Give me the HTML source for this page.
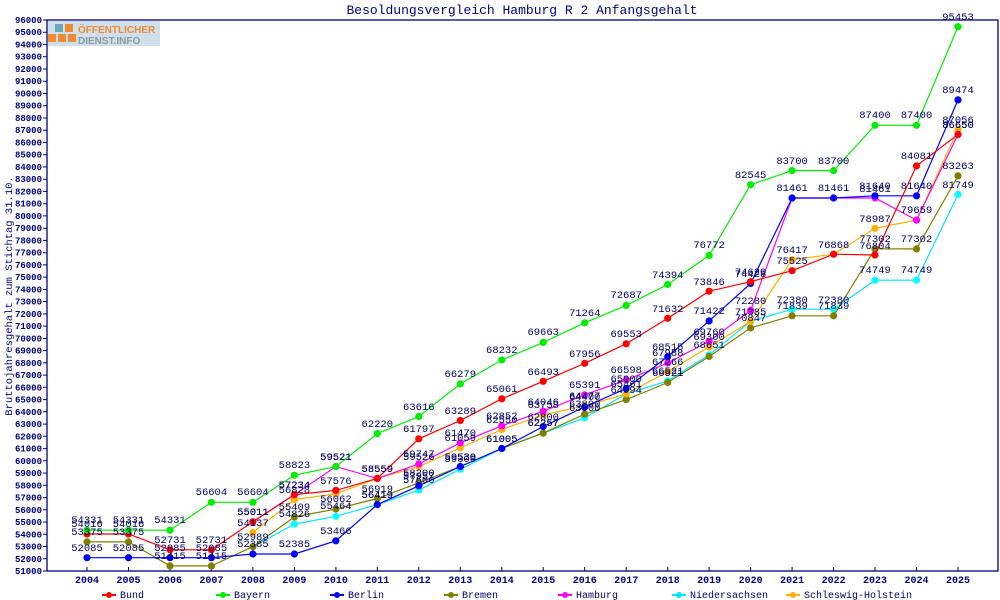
<!DOCTYPE html>
<html><head><meta charset="utf-8"><style>
html,body{margin:0;padding:0;background:#fff;}
svg{display:block;}
.t{font-family:"Liberation Mono",monospace;font-size:10.5px;fill:#000066;text-anchor:middle;}
.yl{font-family:"Liberation Mono",monospace;font-size:9px;font-weight:bold;fill:#000080;text-anchor:end;}
.xl{font-family:"Liberation Mono",monospace;font-size:10px;font-weight:bold;fill:#000080;text-anchor:middle;}
.lg{font-family:"Liberation Mono",monospace;font-size:10px;fill:#000066;}
</style></head><body>
<svg width="1000" height="600" viewBox="0 0 1000 600" xmlns="http://www.w3.org/2000/svg">
<defs>
<marker id="mr" markerUnits="userSpaceOnUse" markerWidth="10" markerHeight="10" refX="5" refY="5"><circle cx="5" cy="5" r="3.6" fill="#ff0000"/></marker>
<marker id="mg" markerUnits="userSpaceOnUse" markerWidth="10" markerHeight="10" refX="5" refY="5"><circle cx="5" cy="5" r="3.6" fill="#00ee00"/></marker>
<marker id="mb" markerUnits="userSpaceOnUse" markerWidth="10" markerHeight="10" refX="5" refY="5"><circle cx="5" cy="5" r="3.6" fill="#0000ff"/></marker>
<marker id="mo" markerUnits="userSpaceOnUse" markerWidth="10" markerHeight="10" refX="5" refY="5"><circle cx="5" cy="5" r="3.6" fill="#808000"/></marker>
<marker id="mm" markerUnits="userSpaceOnUse" markerWidth="10" markerHeight="10" refX="5" refY="5"><circle cx="5" cy="5" r="3.6" fill="#ff00ff"/></marker>
<marker id="mc" markerUnits="userSpaceOnUse" markerWidth="10" markerHeight="10" refX="5" refY="5"><circle cx="5" cy="5" r="3.6" fill="#00ffff"/></marker>
<marker id="my" markerUnits="userSpaceOnUse" markerWidth="10" markerHeight="10" refX="5" refY="5"><circle cx="5" cy="5" r="3.6" fill="#ffb000"/></marker>
</defs>
<text x="522" y="14" style="font-family:'Liberation Mono',monospace;font-size:13px;fill:#000080;text-anchor:middle">Besoldungsvergleich Hamburg R 2 Anfangsgehalt</text>
<!-- logo -->
<rect x="48" y="21" width="112" height="25" fill="#cfe0ea"/>
<rect x="55" y="24" width="8" height="8" fill="#6aa8b8"/><rect x="65" y="24" width="8" height="8" fill="#f08a30"/>
<rect x="48" y="34" width="8" height="8" fill="#f08a30"/><rect x="58" y="34" width="8" height="8" fill="#f08a30"/><rect x="68" y="34" width="8" height="8" fill="#f08a30"/>
<text x="78" y="33" style="font-family:'Liberation Sans',sans-serif;font-size:10px;font-weight:bold;fill:#f08a30">ÖFFENTLICHER</text>
<text x="78" y="44" style="font-family:'Liberation Sans',sans-serif;font-size:10px;font-weight:bold;fill:#8a9aa5">DIENST.INFO</text>
<!-- axes -->
<rect x="47" y="20" width="951" height="551" fill="none" stroke="#000080" stroke-width="1.3"/>
<g stroke="#000080" stroke-width="1">
<path d="M43 20h4M43 32.2h4M43 44.5h4M43 56.7h4M43 69h4M43 81.2h4M43 93.5h4M43 105.7h4M43 118h4M43 130.2h4M43 142.4h4M43 154.7h4M43 166.9h4M43 179.2h4M43 191.4h4M43 203.7h4M43 215.9h4M43 228.2h4M43 240.4h4M43 252.7h4M43 264.9h4M43 277.1h4M43 289.4h4M43 301.6h4M43 313.9h4M43 326.1h4M43 338.4h4M43 350.6h4M43 362.9h4M43 375.1h4M43 387.3h4M43 399.6h4M43 411.8h4M43 424.1h4M43 436.3h4M43 448.6h4M43 460.8h4M43 473.1h4M43 485.3h4M43 497.6h4M43 509.8h4M43 522h4M43 534.3h4M43 546.5h4M43 558.8h4M43 571h4"/>
<path d="M87 571v-4M128.5 571v-4M170 571v-4M211.4 571v-4M252.9 571v-4M294.4 571v-4M335.9 571v-4M377.3 571v-4M418.8 571v-4M460.3 571v-4M501.8 571v-4M543.2 571v-4M584.7 571v-4M626.2 571v-4M667.7 571v-4M709.1 571v-4M750.6 571v-4M792.1 571v-4M833.6 571v-4M875 571v-4M916.5 571v-4M958 571v-4"/>
</g>
<g class="yl">
<text x="42" y="23">96000</text><text x="42" y="35.2">95000</text><text x="42" y="47.5">94000</text><text x="42" y="59.7">93000</text><text x="42" y="72">92000</text><text x="42" y="84.2">91000</text><text x="42" y="96.5">90000</text><text x="42" y="108.7">89000</text><text x="42" y="121">88000</text><text x="42" y="133.2">87000</text><text x="42" y="145.4">86000</text><text x="42" y="157.7">85000</text><text x="42" y="169.9">84000</text><text x="42" y="182.2">83000</text><text x="42" y="194.4">82000</text><text x="42" y="206.7">81000</text><text x="42" y="218.9">80000</text><text x="42" y="231.2">79000</text><text x="42" y="243.4">78000</text><text x="42" y="255.7">77000</text><text x="42" y="267.9">76000</text><text x="42" y="280.1">75000</text><text x="42" y="292.4">74000</text><text x="42" y="304.6">73000</text><text x="42" y="316.9">72000</text><text x="42" y="329.1">71000</text><text x="42" y="341.4">70000</text><text x="42" y="353.6">69000</text><text x="42" y="365.9">68000</text><text x="42" y="378.1">67000</text><text x="42" y="390.3">66000</text><text x="42" y="402.6">65000</text><text x="42" y="414.8">64000</text><text x="42" y="427.1">63000</text><text x="42" y="439.3">62000</text><text x="42" y="451.6">61000</text><text x="42" y="463.8">60000</text><text x="42" y="476.1">59000</text><text x="42" y="488.3">58000</text><text x="42" y="500.6">57000</text><text x="42" y="512.8">56000</text><text x="42" y="525">55000</text><text x="42" y="537.3">54000</text><text x="42" y="549.5">53000</text><text x="42" y="561.8">52000</text><text x="42" y="574">51000</text>
</g>
<g class="xl">
<text x="87" y="583">2004</text><text x="128.5" y="583">2005</text><text x="170" y="583">2006</text><text x="211.4" y="583">2007</text><text x="252.9" y="583">2008</text><text x="294.4" y="583">2009</text><text x="335.9" y="583">2010</text><text x="377.3" y="583">2011</text><text x="418.8" y="583">2012</text><text x="460.3" y="583">2013</text><text x="501.8" y="583">2014</text><text x="543.2" y="583">2015</text><text x="584.7" y="583">2016</text><text x="626.2" y="583">2017</text><text x="667.7" y="583">2018</text><text x="709.1" y="583">2019</text><text x="750.6" y="583">2020</text><text x="792.1" y="583">2021</text><text x="833.6" y="583">2022</text><text x="875" y="583">2023</text><text x="916.5" y="583">2024</text><text x="958" y="583">2025</text>
</g>
<text transform="translate(12,296) rotate(-90)" style="font-family:'Liberation Mono',monospace;font-size:10.5px;fill:#000080;text-anchor:middle">Bruttojahresgehalt zum Stichtag 31.10.</text>
<g fill="none" stroke-width="1.2">
<!-- Niedersachsen -->
<polyline stroke="#00e8ff" marker-start="url(#mc)" marker-mid="url(#mc)" marker-end="url(#mc)" points="252.9,546.6 294.4,524.1 335.9,516.3 377.3,504.6 418.8,490.1 460.3,469.3 501.8,448.5 543.2,433.1 584.7,417.9 626.2,393.9 667.7,380.9 709.1,354.8 750.6,321.4 792.1,309.2 833.6,309.2 875,280.2 916.5,280.2 958,194.5"/>
<!-- Bremen -->
<polyline stroke="#808000" marker-start="url(#mo)" marker-mid="url(#mo)" marker-end="url(#mo)" points="87,541.9 128.5,541.9 170,565.9 211.4,565.9 252.9,546.6 294.4,517 335.9,509 377.3,498.5 418.8,482.8 460.3,466.5 501.8,448.5 543.2,433.1 584.7,414.2 626.2,399.6 667.7,382.5 709.1,356.5 750.6,327.9 792.1,315.8 833.6,315.8 875,248.9 916.5,248.9 958,175.9"/>
<!-- SH -->
<polyline stroke="#ffb000" marker-start="url(#my)" marker-mid="url(#my)" marker-end="url(#my)" points="252.9,532.5 294.4,499.6 335.9,493.8 377.3,478.4 418.8,466.6 460.3,447.8 501.8,429.5 543.2,414.8 584.7,405.9 626.2,393.9 667.7,371.8 709.1,346.9 750.6,321.4 792.1,259.7 833.6,254.2 875,228.3 916.5,220.1 958,129.5"/>
<!-- Hamburg -->
<polyline stroke="#ff00ff" marker-start="url(#mm)" marker-mid="url(#mm)" marker-end="url(#mm)" points="252.9,521.8 294.4,494.6 335.9,466.6 377.3,478.4 418.8,463.9 460.3,442.8 501.8,425.8 543.2,411.2 584.7,394.8 626.2,380 667.7,363 709.1,341.3 750.6,310.4 792.1,198 833.6,198 875,198 916.5,220.1 958,134.5"/>
<!-- Berlin -->
<polyline stroke="#0000ff" marker-start="url(#mb)" marker-mid="url(#mb)" marker-end="url(#mb)" points="87,557.7 128.5,557.7 170,557.7 211.4,557.7 252.9,554 294.4,554 335.9,540.8 377.3,504.6 418.8,485.8 460.3,466.5 501.8,448.5 543.2,426.5 584.7,406.9 626.2,388.5 667.7,356.5 709.1,320.9 750.6,283.5 792.1,198 833.6,198 875,195.8 916.5,195.8 958,99.9"/>
<!-- Bund -->
<polyline stroke="#ff0000" marker-start="url(#mr)" marker-mid="url(#mr)" marker-end="url(#mr)" points="87,534 128.5,534 170,549.8 211.4,549.8 252.9,521.8 294.4,494.6 335.9,490.4 377.3,478.4 418.8,438.8 460.3,420.5 501.8,398.8 543.2,381.3 584.7,363.3 626.2,343.8 667.7,318.3 709.1,291.2 750.6,281.7 792.1,270.7 833.6,254.2 875,255 916.5,165.9 958,134.5"/>
<!-- Bayern -->
<polyline stroke="#00ee00" marker-start="url(#mg)" marker-mid="url(#mg)" marker-end="url(#mg)" points="87,530.2 128.5,530.2 170,530.2 211.4,502.3 252.9,502.3 294.4,475.2 335.9,466.6 377.3,433.6 418.8,416.5 460.3,383.9 501.8,360 543.2,342.4 584.7,322.8 626.2,305.4 667.7,284.5 709.1,255.4 750.6,184.7 792.1,170.6 833.6,170.6 875,125.3 916.5,125.3 958,26.7"/>
</g>
<g class="t">
<!-- Bayern -->
<text x="87" y="523">54331</text><text x="128.5" y="523">54331</text><text x="170" y="523">54331</text><text x="211.4" y="495">56604</text><text x="252.9" y="495">56604</text><text x="294.4" y="468">58823</text><text x="335.9" y="460">59521</text><text x="377.3" y="427">62220</text><text x="418.8" y="410">63616</text><text x="460.3" y="377">66279</text><text x="501.8" y="353">68232</text><text x="543.2" y="335">69663</text><text x="584.7" y="316">71264</text><text x="626.2" y="298">72687</text><text x="667.7" y="278">74394</text><text x="709.1" y="248">76772</text><text x="750.6" y="178">82545</text><text x="792.1" y="164">83700</text><text x="833.6" y="164">83700</text><text x="875" y="118">87400</text><text x="916.5" y="118">87400</text><text x="958" y="20">95453</text>
<!-- Bund -->
<text x="87" y="527">54016</text><text x="128.5" y="527">54016</text><text x="170" y="543">52731</text><text x="211.4" y="543">52731</text><text x="252.9" y="515">55011</text><text x="294.4" y="488">57234</text><text x="335.9" y="484">57576</text><text x="377.3" y="472">58559</text><text x="418.8" y="432">61797</text><text x="460.3" y="414">63289</text><text x="501.8" y="392">65061</text><text x="543.2" y="375">66493</text><text x="584.7" y="357">67956</text><text x="626.2" y="337">69553</text><text x="667.7" y="312">71632</text><text x="709.1" y="285">73846</text><text x="750.6" y="275">74620</text><text x="792.1" y="264">75525</text><text x="833.6" y="248">76868</text><text x="875" y="249">76804</text><text x="916.5" y="159">84081</text><text x="958" y="128">86650</text>
<!-- Berlin -->
<text x="87" y="551">52085</text><text x="128.5" y="551">52085</text><text x="170" y="551">52085</text><text x="211.4" y="551">52085</text><text x="252.9" y="547">52385</text><text x="294.4" y="547">52385</text><text x="335.9" y="534">53466</text><text x="377.3" y="498">56419</text><text x="418.8" y="479">57957</text><text x="460.3" y="460">59530</text><text x="501.8" y="442">61005</text><text x="543.2" y="420">62800</text><text x="584.7" y="400">64400</text><text x="626.2" y="382">65900</text><text x="667.7" y="350">68515</text><text x="709.1" y="314">71422</text><text x="750.6" y="277">74428</text><text x="792.1" y="191">81461</text><text x="833.6" y="191">81461</text><text x="875" y="189">81640</text><text x="916.5" y="189">81640</text><text x="958" y="93">89474</text>
<!-- Bremen -->
<text x="87" y="535">53375</text><text x="128.5" y="535">53375</text><text x="170" y="559">51415</text><text x="211.4" y="559">51415</text><text x="252.9" y="540">52989</text><text x="294.4" y="510">55409</text><text x="335.9" y="502">56062</text><text x="377.3" y="492">56919</text><text x="418.8" y="476">58200</text><text x="460.3" y="460">59530</text><text x="501.8" y="442">61005</text><text x="543.2" y="426">62257</text><text x="584.7" y="407">63800</text><text x="626.2" y="393">64994</text><text x="667.7" y="376">66521</text><text x="709.1" y="348">68651</text><text x="750.6" y="321">70847</text><text x="792.1" y="309">71839</text><text x="833.6" y="309">71839</text><text x="875" y="242">77302</text><text x="916.5" y="242">77302</text><text x="958" y="169">83263</text>
<!-- Hamburg -->
<text x="252.9" y="515">55011</text><text x="294.4" y="488">57234</text><text x="335.9" y="460">59521</text><text x="377.3" y="472">58559</text><text x="418.8" y="457">59747</text><text x="460.3" y="436">61470</text><text x="501.8" y="419">62852</text><text x="543.2" y="405">64046</text><text x="584.7" y="388">65391</text><text x="626.2" y="373">66598</text><text x="667.7" y="356">67988</text><text x="709.1" y="335">69760</text><text x="750.6" y="304">72280</text><text x="875" y="192">81461</text><text x="916.5" y="213">79659</text><text x="958" y="128">86650</text>
<!-- Niedersachsen -->
<text x="294.4" y="517">54826</text><text x="335.9" y="509">55464</text><text x="377.3" y="498">56419</text><text x="418.8" y="483">57600</text><text x="460.3" y="462">59300</text><text x="543.2" y="426">62257</text><text x="584.7" y="411">63500</text><text x="626.2" y="387">65461</text><text x="667.7" y="374">66521</text><text x="750.6" y="315">71385</text><text x="792.1" y="303">72380</text><text x="833.6" y="303">72380</text><text x="875" y="273">74749</text><text x="916.5" y="273">74749</text><text x="958" y="188">81749</text>
<!-- SH -->
<text x="252.9" y="526">54137</text><text x="294.4" y="493">56828</text><text x="418.8" y="460">59526</text><text x="460.3" y="441">61059</text><text x="501.8" y="423">62550</text><text x="543.2" y="408">63758</text><text x="584.7" y="399">64477</text><text x="667.7" y="365">67266</text><text x="709.1" y="340">69300</text><text x="792.1" y="253">76417</text><text x="875" y="222">78987</text><text x="958" y="123">87056</text>
</g>
<!-- legend -->
<g stroke-width="2">
<line x1="102" y1="595" x2="116" y2="595" stroke="#ff0000"/><circle cx="109" cy="595" r="3" fill="#ff0000"/>
<line x1="216" y1="595" x2="230" y2="595" stroke="#00ee00"/><circle cx="223" cy="595" r="3" fill="#00ee00"/>
<line x1="330" y1="595" x2="344" y2="595" stroke="#0000ff"/><circle cx="337" cy="595" r="3" fill="#0000ff"/>
<line x1="444" y1="595" x2="458" y2="595" stroke="#808000"/><circle cx="451" cy="595" r="3" fill="#808000"/>
<line x1="558" y1="595" x2="572" y2="595" stroke="#ff00ff"/><circle cx="565" cy="595" r="3" fill="#ff00ff"/>
<line x1="672" y1="595" x2="686" y2="595" stroke="#00e8ff"/><circle cx="679" cy="595" r="3" fill="#00e8ff"/>
<line x1="786" y1="595" x2="800" y2="595" stroke="#ffb000"/><circle cx="793" cy="595" r="3" fill="#ffb000"/>
</g>
<g class="lg">
<text x="120" y="598">Bund</text><text x="234" y="598">Bayern</text><text x="348" y="598">Berlin</text><text x="462" y="598">Bremen</text><text x="576" y="598">Hamburg</text><text x="690" y="598">Niedersachsen</text><text x="804" y="598">Schleswig-Holstein</text>
</g>
</svg>
</body></html>
